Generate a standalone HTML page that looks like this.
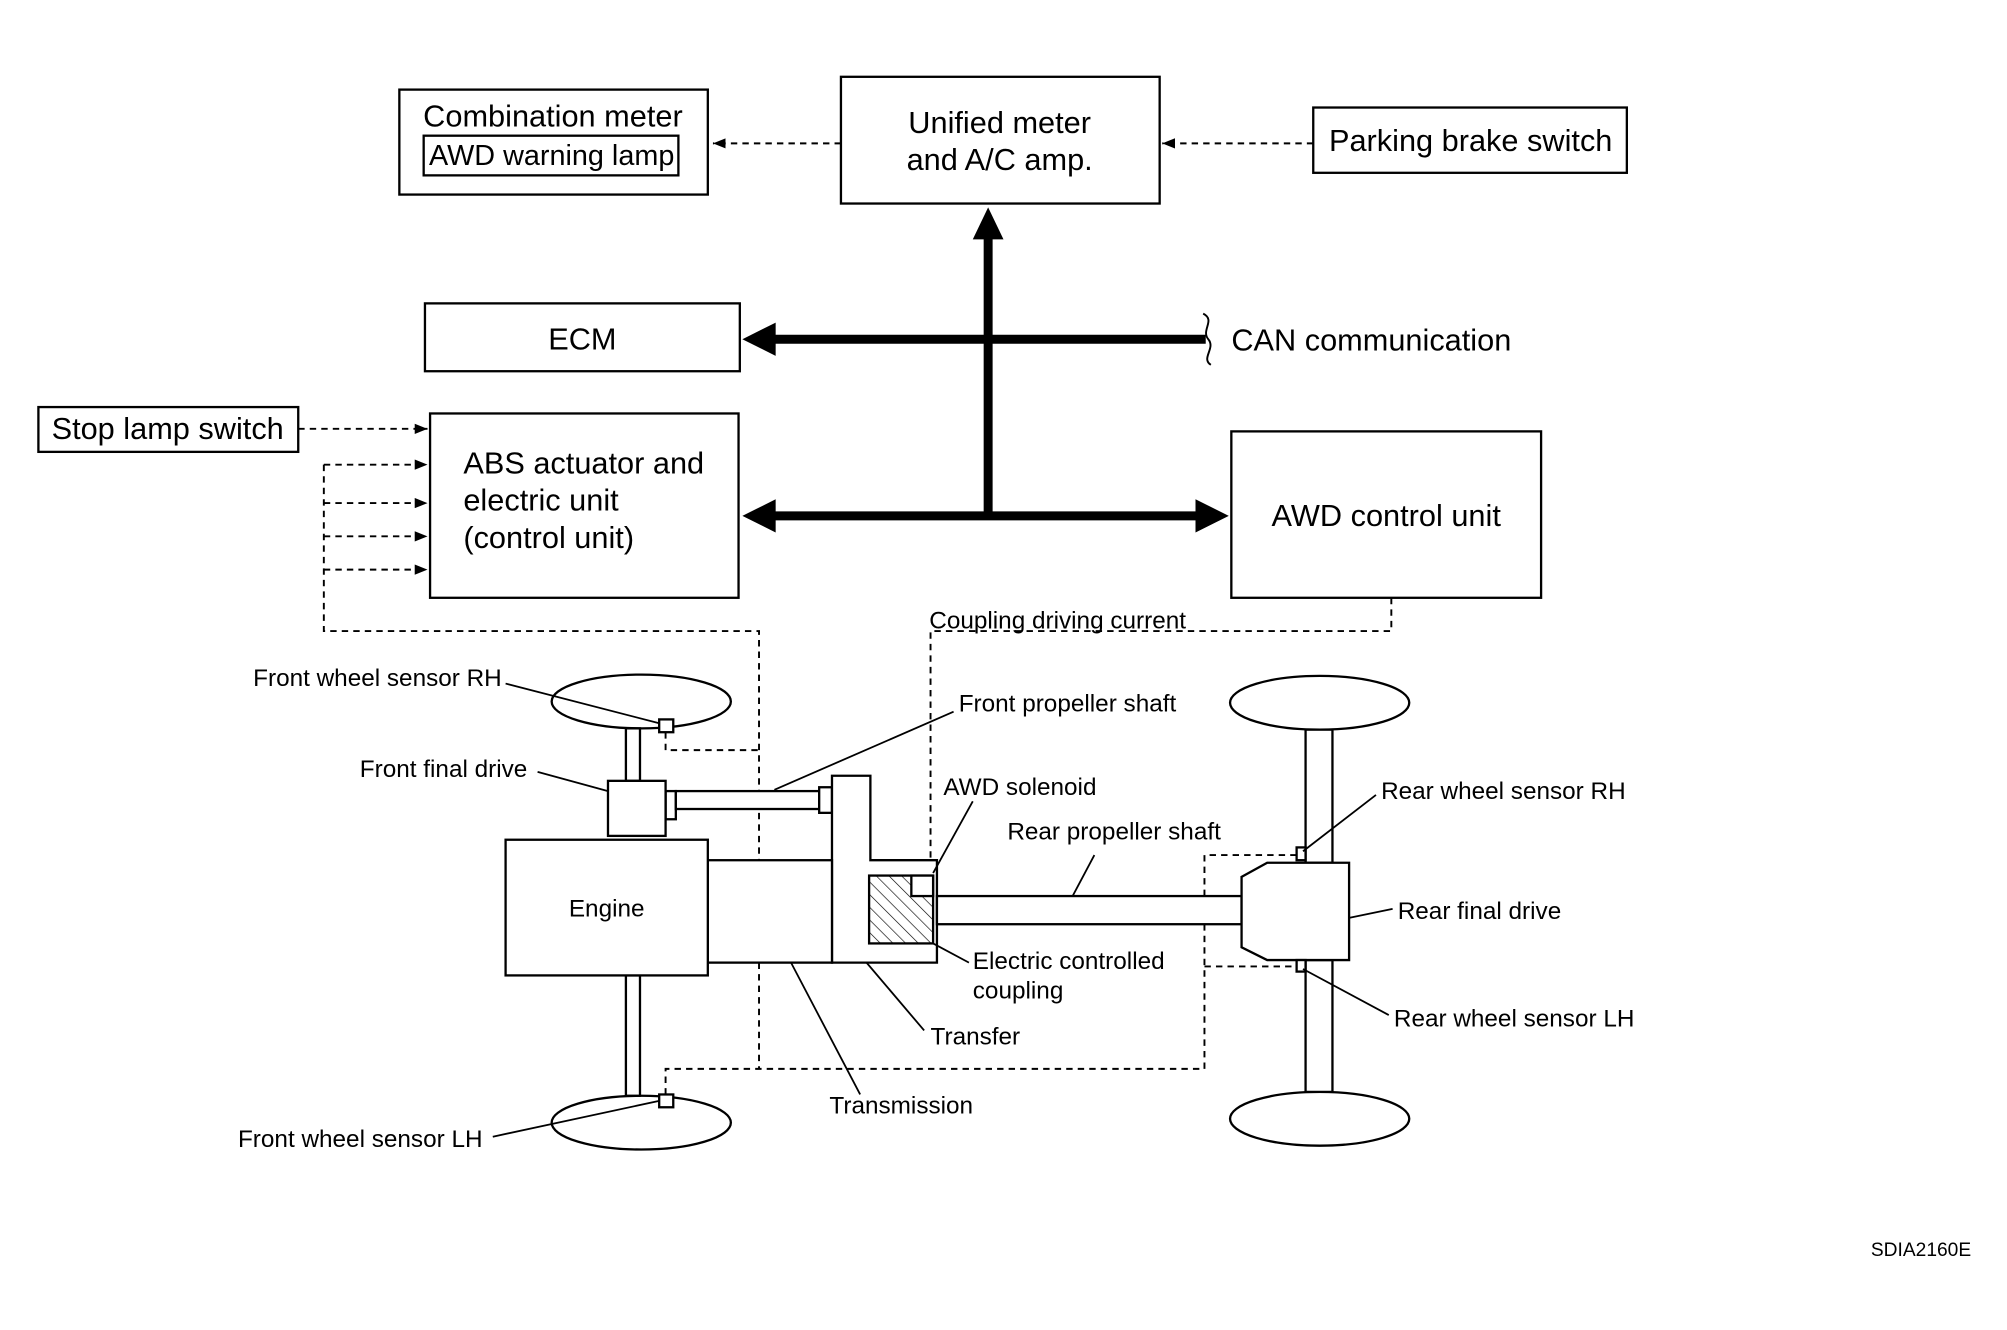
<!DOCTYPE html>
<html><head><meta charset="utf-8"><style>
html,body{margin:0;padding:0;background:#fff;}
svg{display:block;}
text{font-family:"Liberation Sans",sans-serif;fill:#000;}
.b{font-size:24px;}
.l{font-size:19px;}
</style></head><body>
<svg width="2007" height="1330" viewBox="0 0 1568 1039" preserveAspectRatio="none" xmlns="http://www.w3.org/2000/svg">
<defs>
<marker id="ah" markerWidth="10" markerHeight="8" refX="10" refY="4" orient="auto" markerUnits="userSpaceOnUse"><path d="M0,0 L10,4 L0,8 z" fill="#000"/></marker>
<pattern id="hatch" width="7" height="7" patternUnits="userSpaceOnUse" patternTransform="rotate(-45)"><line x1="0" y1="0" x2="0" y2="7" stroke="#000" stroke-width="1"/></pattern>
</defs>
<g fill="none" stroke="#000" stroke-width="1.8">
<rect x="312" y="70" width="241" height="82"/>
<rect x="331" y="106" width="199" height="31"/>
<rect x="657" y="60" width="249" height="99"/>
<rect x="1026" y="84" width="245" height="51"/>
<rect x="332" y="237" width="246" height="53"/>
<rect x="30" y="318" width="203" height="35"/>
<rect x="336" y="323" width="241" height="144"/>
<rect x="962" y="337" width="242" height="130"/>
</g>
<g fill="none" stroke="#000" stroke-width="1.5" stroke-dasharray="5,4">
<line x1="657" y1="112" x2="557" y2="112" marker-end="url(#ah)"/>
<line x1="1026" y1="112" x2="908" y2="112" marker-end="url(#ah)"/>
<line x1="233" y1="335" x2="334" y2="335" marker-end="url(#ah)"/>
<line x1="253" y1="363" x2="334" y2="363" marker-end="url(#ah)"/>
<line x1="253" y1="393" x2="334" y2="393" marker-end="url(#ah)"/>
<line x1="253" y1="419" x2="334" y2="419" marker-end="url(#ah)"/>
<line x1="253" y1="445" x2="334" y2="445" marker-end="url(#ah)"/>
<polyline points="253,363 253,493 593,493 593,835"/>
<polyline points="520,572 520,586 593,586"/>
<polyline points="520,855 520,835 941,835 941,668 1013,668"/>
<line x1="941" y1="755" x2="1013" y2="755"/>
<polyline points="1087,467 1087,493 727,493 727,682" marker-end="url(#ah)"/>
</g>
<g stroke="#000" stroke-width="7" fill="none">
<line x1="772" y1="185" x2="772" y2="403"/>
<line x1="605" y1="265" x2="942" y2="265"/>
<line x1="605" y1="403" x2="935" y2="403"/>
</g>
<g fill="#000">
<path d="M760,187 L772,162 L784,187 z"/>
<path d="M606,252 L580,265 L606,278 z"/>
<path d="M606,390 L580,403 L606,416 z"/>
<path d="M934,390 L960,403 L934,416 z"/>
</g>
<path d="M940,245 C950,250 938,258 944,265 C950,272 938,280 946,285" fill="none" stroke="#000" stroke-width="1.5"/>
<g fill="#fff" stroke="#000" stroke-width="1.8">
<ellipse cx="501" cy="548" rx="70" ry="21"/>
<ellipse cx="501" cy="877" rx="70" ry="21"/>
<ellipse cx="1031" cy="549" rx="70" ry="21"/>
<ellipse cx="1031" cy="874" rx="70" ry="21"/>
<rect x="489" y="569" width="11" height="41"/>
<rect x="489" y="762" width="11" height="94"/>
<rect x="1020" y="570" width="21" height="104"/>
<rect x="1020" y="750" width="21" height="103"/>
<rect x="520" y="618" width="8" height="22"/>
<rect x="475" y="610" width="45" height="43"/>
<rect x="528" y="618" width="112" height="14"/>
<rect x="640" y="615" width="10" height="20"/>
<polygon points="650,606 680,606 680,672 732,672 732,752 650,752"/>
<rect x="553" y="672" width="97" height="80"/>
<rect x="395" y="656" width="158" height="106"/>
<rect x="732" y="700" width="238" height="22"/>
<polygon points="970,685 990,674 1054,674 1054,750 990,750 970,740"/>
<rect x="679" y="684" width="50" height="53" fill="url(#hatch)"/>
<rect x="712" y="684" width="17" height="16"/>
<rect x="515" y="562" width="11" height="10"/>
<rect x="515" y="855" width="11" height="10"/>
<rect x="1013" y="662" width="7" height="10"/>
<rect x="1013" y="750" width="7" height="9"/>
</g>
<g stroke="#000" stroke-width="1.4" fill="none">
<line x1="395" y1="534" x2="515" y2="565"/>
<line x1="420" y1="603" x2="475" y2="618"/>
<line x1="745" y1="556" x2="605" y2="617"/>
<line x1="760" y1="626" x2="729" y2="682"/>
<line x1="855" y1="668" x2="838" y2="700"/>
<line x1="757" y1="752" x2="729" y2="737"/>
<line x1="722" y1="805" x2="677" y2="752"/>
<line x1="672" y1="855" x2="618" y2="752"/>
<line x1="385" y1="888" x2="515" y2="860"/>
<line x1="1075" y1="621" x2="1018" y2="665"/>
<line x1="1088" y1="710" x2="1054" y2="717"/>
<line x1="1085" y1="793" x2="1018" y2="757"/>
</g>
<text class="b" x="432" y="99" text-anchor="middle">Combination meter</text>
<text x="431" y="129" text-anchor="middle" style="font-size:22.5px">AWD warning lamp</text>
<text class="b" x="781" y="104" text-anchor="middle">Unified meter</text>
<text class="b" x="781" y="133" text-anchor="middle">and A/C amp.</text>
<text class="b" x="1149" y="118" text-anchor="middle">Parking brake switch</text>
<text class="b" x="455" y="273" text-anchor="middle">ECM</text>
<text class="b" x="962" y="274">CAN communication</text>
<text class="b" x="131" y="343" text-anchor="middle">Stop lamp switch</text>
<text class="b" x="362" y="370">ABS actuator and</text>
<text class="b" x="362" y="399">electric unit</text>
<text class="b" x="362" y="428">(control unit)</text>
<text class="b" x="1083" y="411" text-anchor="middle">AWD control unit</text>
<text class="l" x="726" y="491">Coupling driving current</text>
<text class="l" x="392" y="536" text-anchor="end">Front wheel sensor RH</text>
<text class="l" x="749" y="556">Front propeller shaft</text>
<text class="l" x="412" y="607" text-anchor="end">Front final drive</text>
<text class="l" x="737" y="621">AWD solenoid</text>
<text class="l" x="787" y="656">Rear propeller shaft</text>
<text class="l" x="1079" y="624">Rear wheel sensor RH</text>
<text class="l" x="474" y="716" text-anchor="middle">Engine</text>
<text class="l" x="1092" y="718">Rear final drive</text>
<text class="l" x="760" y="757">Electric controlled</text>
<text class="l" x="760" y="780">coupling</text>
<text class="l" x="1089" y="802">Rear wheel sensor LH</text>
<text class="l" x="727" y="816">Transfer</text>
<text class="l" x="648" y="870">Transmission</text>
<text class="l" x="377" y="896" text-anchor="end">Front wheel sensor LH</text>
<text x="1540" y="981" text-anchor="end" style="font-size:15px">SDIA2160E</text>
</svg>
</body></html>
